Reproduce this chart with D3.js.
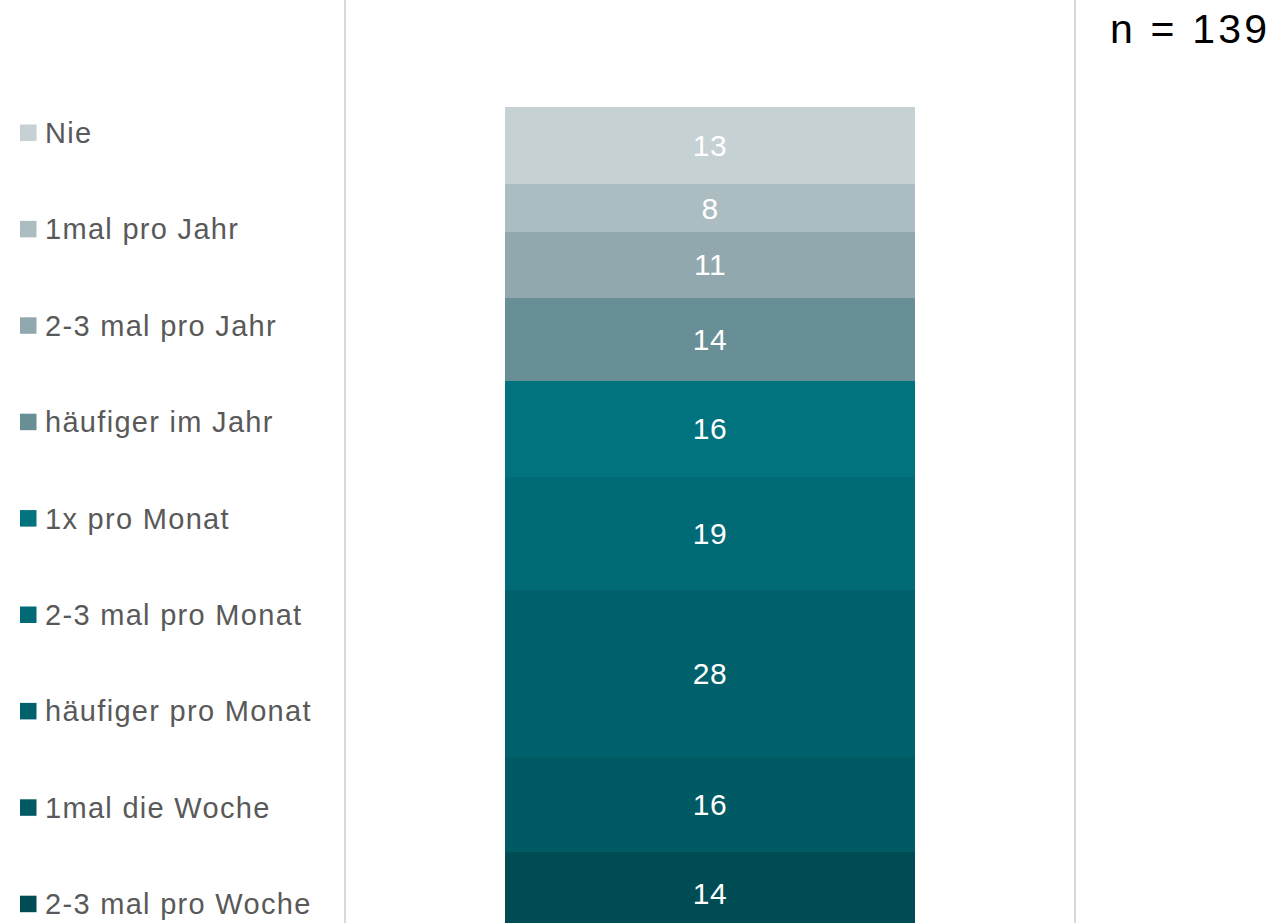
<!DOCTYPE html>
<html>
<head>
<meta charset="utf-8">
<script src="https://cdn.jsdelivr.net/npm/d3@7"></script>
<style>
  html, body { margin: 0; padding: 0; background: #fff; }
  svg { display: block; font-family: "Liberation Sans", Arial, sans-serif; }
</style>
</head>
<body>
<svg id="chart" width="1278" height="923"></svg>
<script>
// Frequency categories, top segment first
const categories = [
  "Nie",
  "1mal pro Jahr",
  "2-3 mal pro Jahr",
  "häufiger im Jahr",
  "1x pro Monat",
  "2-3 mal pro Monat",
  "häufiger pro Monat",
  "1mal die Woche",
  "2-3 mal pro Woche"
];
// Respondent counts per category
const counts = [13, 8, 11, 14, 16, 19, 28, 16, 14];
const colors = [
  "#c5d1d3", "#abbdc1", "#91a9ae", "#688f96",
  "#00737e", "#006b76", "#00616c", "#005a63", "#004c55"
];
const sampleLabel = "n = 139";

const svg = d3.select("#chart");
const W = 1278, H = 923;

// Stack the counts from the top down
const total = d3.sum(counts);
let acc = 0;
const segments = counts.map((v, i) => {
  const s = { cat: categories[i], value: v, y0: acc, y1: acc + v, color: colors[i] };
  acc += v;
  return s;
});

const x = d3.scaleBand().domain(["all"]).range([345, 1075]).paddingInner(0).paddingOuter(0.392);
const y = d3.scaleLinear().domain([0, total]).range([107, 107 + total * 5.96]);

// Vertical category separators
svg.selectAll("line.sep")
  .data([345, 1075])
  .join("line")
  .attr("class", "sep")
  .attr("x1", d => d).attr("x2", d => d)
  .attr("y1", 0).attr("y2", H)
  .attr("stroke", "#d9d9d9")
  .attr("stroke-width", 2);

// Stacked bar
svg.selectAll("rect.seg")
  .data(segments)
  .join("rect")
  .attr("class", "seg")
  .attr("shape-rendering", "crispEdges")
  .attr("x", x("all"))
  .attr("width", x.bandwidth())
  .attr("y", d => y(d.y0))
  .attr("height", d => y(d.y1) - y(d.y0) + 0.5)
  .attr("fill", d => d.color);

// Value labels
svg.selectAll("text.val")
  .data(segments)
  .join("text")
  .attr("class", "val")
  .attr("x", x("all") + x.bandwidth() / 2)
  .attr("y", d => (y(d.y0) + y(d.y1)) / 2 + 10.5)
  .attr("text-anchor", "middle")
  .attr("fill", "#ffffff")
  .attr("font-size", 30)
  .attr("letter-spacing", 0.5)
  .text(d => d.value);

// Legend
const legendY = d3.scalePoint().domain(categories).range([143, 914.2]);
const leg = svg.selectAll("g.leg")
  .data(segments)
  .join("g")
  .attr("class", "leg")
  .attr("transform", d => `translate(0,${legendY(d.cat)})`);
leg.append("rect")
  .attr("x", 20).attr("y", -18.5)
  .attr("width", 16.5).attr("height", 16.5)
  .attr("fill", d => d.color);
leg.append("text")
  .attr("x", 45).attr("y", 0)
  .attr("font-size", 29)
  .attr("letter-spacing", 1.3)
  .attr("fill", "#595959")
  .text(d => d.cat);

// Sample size
svg.append("text")
  .attr("x", 1110).attr("y", 43)
  .attr("font-size", 41)
  .attr("letter-spacing", 3.2)
  .attr("fill", "#000")
  .text(sampleLabel);
</script>
</body>
</html>
